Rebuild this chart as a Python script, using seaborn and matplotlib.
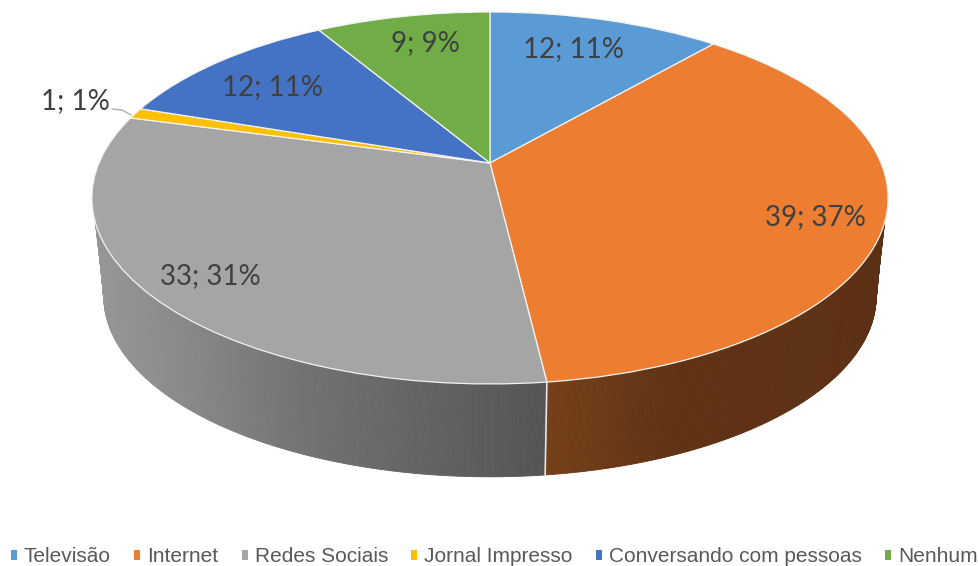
import numpy as np
import matplotlib
matplotlib.use("Agg")
import matplotlib.pyplot as plt
import seaborn as sns
from matplotlib.patches import Patch
from matplotlib.transforms import Transform

# Data
categories = ['Televisão', 'Internet', 'Redes Sociais', 'Jornal Impresso', 'Conversando com pessoas', 'Nenhum']
values = [12, 39, 33, 1, 12, 9]
percents = [11, 37, 31, 1, 11, 9]
colors = sns.color_palette(['#5B9BD5', '#ED7D31', '#A5A5A5', '#FFC000', '#4472C4', '#70AD47'])

# where the value labels sit, in pixels
label_pos = [(574, 49), (815, 217), (210, 276), (75, 101), (273, 87), (425, 43)]

# wall shading along x, only the orange and gray slices show a wall
wall_x = [90, 200, 300, 547, 548, 680, 890]
wall_r = [0x98, 0x85, 0x72, 0x54, 0x74, 0x5f, 0x5c]
wall_g = [0x98, 0x85, 0x72, 0x54, 0x40, 0x32, 0x30]
wall_b = [0x98, 0x85, 0x72, 0x54, 0x18, 0x14, 0x14]


def project(u, v, scale=1.0, cy=163.0):
    # perspective view of the unit circle, tilted away at the back
    w = 1 + 0.188 * v
    return 490 + scale * 391 * u / w, cy - scale * 179.4 * v / w


class Tilt(Transform):
    input_dims = 2
    output_dims = 2

    def transform_non_affine(self, values):
        xy = np.asarray(values, dtype=float)
        x, y = project(xy[:, 0], xy[:, 1])
        return np.column_stack([x, y])


sns.set_theme(style="white")
plt.rcParams['font.family'] = ['Lato', 'DejaVu Sans']

fig = plt.figure(figsize=(9.79, 5.66), dpi=100)
ax = fig.add_axes([0, 0, 1, 1])

wedges, _ = ax.pie(values, colors=colors, startangle=90, counterclock=False,
                   wedgeprops=dict(edgecolor='#f2f2f2', linewidth=0.9, zorder=3))
for w in wedges:
    w.set_transform(Tilt() + ax.transData)

ax.set_aspect('auto')
ax.set_xlim(0, 979)
ax.set_ylim(566, 0)
ax.axis('off')

# side wall, strips between upper rim and lower rim
edges = np.cumsum([0] + values) / sum(values) * 360
vis_a, vis_b = 108, 252
for a, b in zip(edges[:-1], edges[1:]):
    lo, hi = max(a, vis_a), min(b, vis_b)
    if hi <= lo:
        continue
    deg = np.linspace(lo, hi, int((hi - lo) * 3) + 2)
    th = np.radians(deg)
    # lower rim runs a little further round at both ends of the wall
    th_low = np.radians(np.interp(deg, [vis_a, 125, 235, vis_b], [100, 125, 235, 260]))
    tx, ty = project(np.sin(th), np.cos(th))
    bx, by = project(np.sin(th_low), np.cos(th_low), scale=0.97, cy=262.5)
    for i in range(len(th) - 1):
        mid = (tx[i] + tx[i + 1]) / 2
        # keep the colour break exactly on the slice border
        if a < 100:
            mid = max(mid, 548)
        else:
            mid = min(mid, 547)
        col = (np.interp(mid, wall_x, wall_r) / 255, np.interp(mid, wall_x, wall_g) / 255,
               np.interp(mid, wall_x, wall_b) / 255)
        ax.fill([tx[i], tx[i + 1], bx[i + 1], bx[i]], [ty[i], ty[i + 1], by[i + 1], by[i]],
                color=col, lw=0.6, zorder=1)
    if lo > 108:
        ax.plot([tx[0], bx[0]], [ty[0], by[0]], color='#e8e8e8', lw=1.2, zorder=2)

# value labels
for i, (px, py) in enumerate(label_pos):
    ax.text(px, py, f"{values[i]}; {percents[i]}%", ha='center', va='center',
            fontsize=20, color='#404040', zorder=5)

# leader for the small slice
ax.plot([112, 122, 131], [109, 110, 115], color='#b0b0b0', lw=1, zorder=2)

handles = [Patch(facecolor=c, edgecolor='none', label=n) for c, n in zip(colors, categories)]
leg = ax.legend(handles=handles, ncol=6, loc='center left', bbox_to_anchor=(11 / 979, 1 - 557 / 566),
                frameon=False, labelcolor='#595959',
                prop={'family': 'Liberation Sans', 'size': 15.0},
                handlelength=0.29, handleheight=0.29, handletextpad=0.33, columnspacing=1.12,
                borderpad=0, borderaxespad=0)

fig.savefig('out.png', dpi=100)
